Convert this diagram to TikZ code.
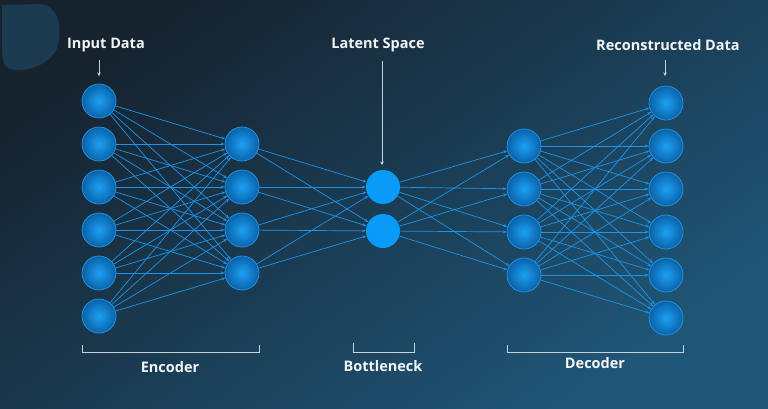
\documentclass[tikz,border=0pt]{standalone}
\usepackage{fontspec}
\newfontfamily\lbl{Open Sans}
\usetikzlibrary{arrows.meta}
\pgfdeclarelayer{bg}\pgfdeclarelayer{edges}
\pgfsetlayers{bg,edges,main}
\definecolor{bgA}{HTML}{16232F}
\definecolor{bgB}{HTML}{1F5678}
\definecolor{blobC}{HTML}{1C3B51}
\definecolor{nodeIn}{HTML}{1CA0F4}
\definecolor{nodeOut}{HTML}{0A62A8}
\definecolor{nodeRim}{HTML}{2299EA}
\definecolor{latentC}{HTML}{0A9BF8}
\definecolor{edgeC}{HTML}{1C94EC}
\definecolor{txtC}{HTML}{F2F4F6}
\definecolor{ptrC}{HTML}{C8D0D8}
\tikzset{
  neuron/.style={circle, minimum size=34pt, inner sep=0pt, inner color=nodeIn, outer color=nodeOut, draw=nodeRim, line width=0.7pt},
  latent/.style={circle, minimum size=34pt, inner sep=0pt, fill=latentC},
  conn/.style={draw=edgeC, line width=0.7pt, -{Stealth[length=4pt,width=3pt]}},
  lab/.style={text=txtC, font=\lbl\bfseries\fontsize{14.5}{17}\selectfont, inner sep=0pt},
  ptr/.style={draw=ptrC, line width=0.8pt, -{Stealth[length=3.5pt,width=3.5pt]}},
  brk/.style={draw=ptrC, line width=1pt}
}
\begin{document}
\begin{tikzpicture}[x=1pt,y=-1pt]
\useasboundingbox (0,0) rectangle (768,408);
\begin{pgfonlayer}{bg}
\shade[shading=axis, top color=bgA, bottom color=bgB, shading angle=35] (0,0) rectangle (768,408);
\fill[blobC] (2,5) -- (40,4) .. controls (58,6) and (62,25) .. (58,45) .. controls (54,62) and (30,72) .. (14,70) .. controls (4,69) and (2,60) .. (2,50) -- cycle;
\end{pgfonlayer}

% input layer
\foreach \i/\y in {1/101,2/144,3/187,4/230,5/273,6/316}
  \node[neuron] (i\i) at (99,\y) {};
% encoder hidden
\foreach \i/\y in {1/144,2/187,3/230,4/273}
  \node[neuron] (h\i) at (242,\y) {};
% latent
\node[latent] (z1) at (383,187) {};
\node[latent] (z2) at (383,231) {};
% decoder hidden
\foreach \i/\y in {1/146,2/189,3/232,4/275}
  \node[neuron] (d\i) at (524,\y) {};
% output
\foreach \i/\y in {1/103,2/146,3/189,4/232,5/275,6/318}
  \node[neuron] (o\i) at (666,\y) {};

\begin{pgfonlayer}{edges}
\foreach \a in {1,...,6} \foreach \b in {1,...,4} \draw[conn] (i\a) -- (h\b);
\foreach \a in {1,...,4} \foreach \b in {1,2} \draw[conn] (h\a) -- (z\b);
\foreach \a in {1,2} \foreach \b in {1,...,4} \draw[conn] (z\a) -- (d\b);
\foreach \a in {1,...,4} \foreach \b in {1,...,6} \draw[conn] (d\a) -- (o\b);
\end{pgfonlayer}

% labels
\node[lab] (tin) at (106,45) {Input Data};
\node[lab] (tlat) at (378,45) {Latent Space};
\node[lab] (tout) at (668,45) {Reconstructed Data};
\coordinate (pin) at (99,60); \coordinate (pin2) at (99,76);
\coordinate (plat) at (382,61); \coordinate (plat2) at (382,165);
\coordinate (pout) at (665,60); \coordinate (pout2) at (665,76);
\draw[ptr] (pin) -- (pin2);
\draw[ptr] (plat) -- (plat2);
\draw[ptr] (pout) -- (pout2);

% brackets
\draw[brk] (82,345) -- (82,352) -- (259,352) -- (259,345);
\draw[brk] (353,343) -- (353,352) -- (414,352) -- (414,343);
\draw[brk] (507,345) -- (507,352) -- (683,352) -- (683,345);
\node[lab] (tenc) at (170,367) {Encoder};
\node[lab] (tbot) at (383,366) {Bottleneck};
\node[lab] (tdec) at (595,363) {Decoder};
\end{tikzpicture}
\end{document}
